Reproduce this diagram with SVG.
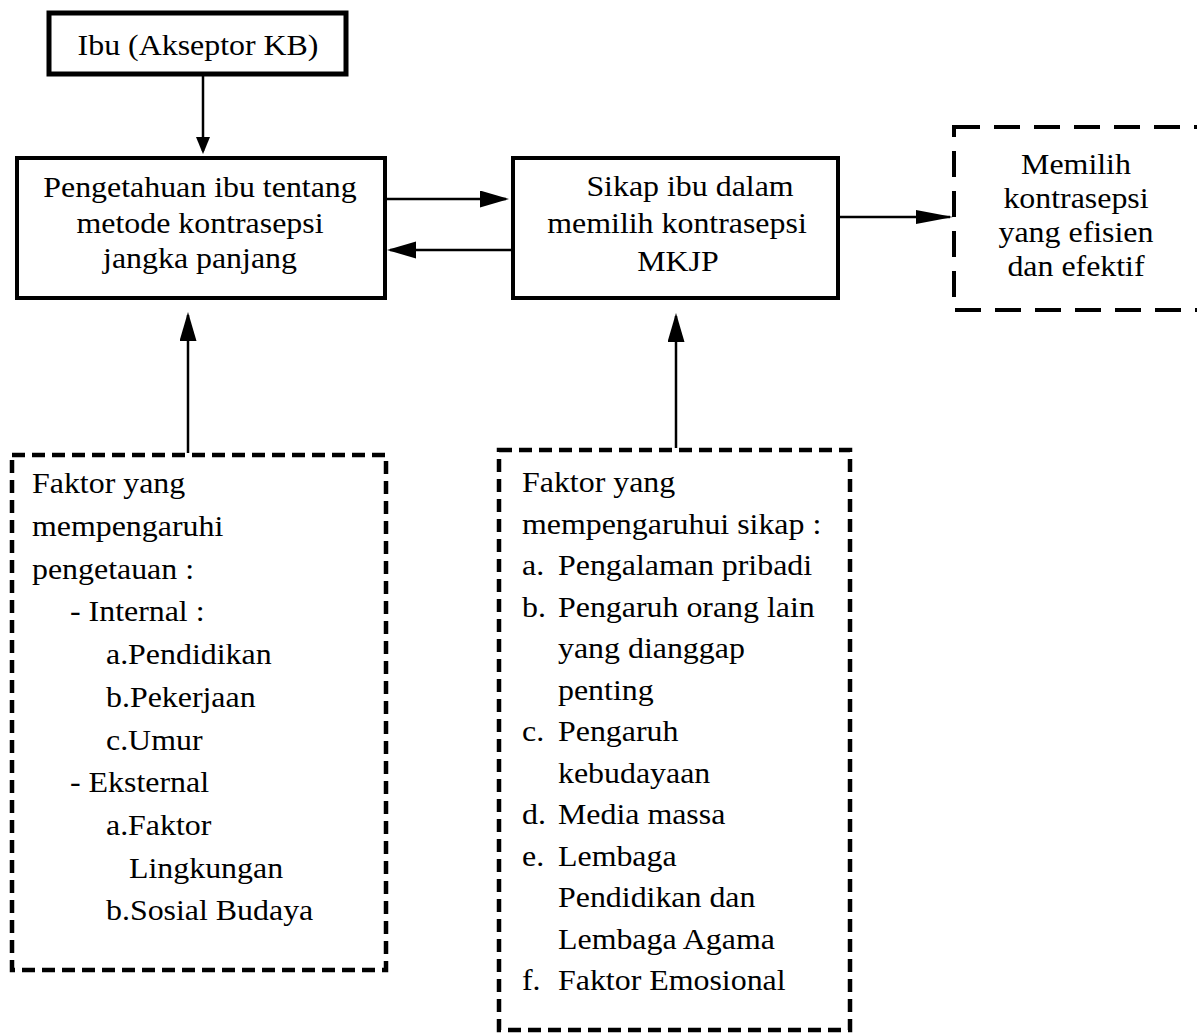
<svg xmlns="http://www.w3.org/2000/svg" width="1197" height="1035" viewBox="0 0 1197 1035">
<style>
.t{font-family:"Liberation Serif","Times New Roman",serif;font-size:29px;fill:#000}
.c{text-anchor:middle}
.box{fill:#fff;stroke:#000;stroke-width:4}
.dbs{fill:#fff;stroke:#000;stroke-width:4.5;stroke-dasharray:13 7}
.dbl{fill:#fff;stroke:#000;stroke-width:4;stroke-dasharray:26 14}
.ln{stroke:#000;stroke-width:2.5;fill:none}
</style>
<defs>
<marker id="am" markerUnits="userSpaceOnUse" markerWidth="30" markerHeight="18" refX="26" refY="8.5" orient="auto"><path d="M0,0 L29,8.5 L0,17 z" fill="#000"/></marker>
<marker id="as" markerUnits="userSpaceOnUse" markerWidth="18" markerHeight="16" refX="14" refY="7" orient="auto"><path d="M0,0 L17,7 L0,14 z" fill="#000"/></marker>
<marker id="al" markerUnits="userSpaceOnUse" markerWidth="38" markerHeight="16" refX="34" refY="7" orient="auto"><path d="M0,0 L37,7 L0,14 z" fill="#000"/></marker>
</defs>
<rect width="1197" height="1035" fill="#fff"/>
<g id="connectors">
<line class="ln" x1="203" y1="76" x2="203" y2="151" marker-end="url(#as)"/>
<line class="ln" x1="387" y1="199" x2="506" y2="199" marker-end="url(#am)"/>
<line class="ln" x1="511" y1="250" x2="390" y2="250" marker-end="url(#am)"/>
<line class="ln" x1="840" y1="217" x2="950" y2="217" marker-end="url(#al)"/>
<line class="ln" x1="188" y1="453" x2="188" y2="315" marker-end="url(#am)"/>
<line class="ln" x1="676" y1="448" x2="676" y2="316" marker-end="url(#am)"/>
</g>
<g id="ibu">
<rect class="box" x="49" y="13" width="297" height="61" style="stroke-width:5"/>
<text class="t c" transform="translate(198 55) scale(1.1 1)">Ibu (Akseptor KB)</text>
</g>
<g id="pengetahuan">
<rect class="box" x="17" y="158" width="368" height="140"/>
<text class="t c" transform="translate(200 197) scale(1.1 1)">Pengetahuan ibu tentang</text>
<text class="t c" transform="translate(200 232.5) scale(1.1 1)">metode kontrasepsi</text>
<text class="t c" transform="translate(200 268) scale(1.1 1)">jangka panjang</text>
</g>
<g id="sikap">
<rect class="box" x="513" y="158" width="325" height="140"/>
<text class="t c" transform="translate(690 196) scale(1.1 1)">Sikap ibu dalam</text>
<text class="t c" transform="translate(677 233) scale(1.1 1)">memilih kontrasepsi</text>
<text class="t c" transform="translate(678 271) scale(1.1 1)">MKJP</text>
</g>
<g id="memilih">
<rect class="dbl" x="954" y="127" width="262" height="183"/>
<text class="t c" transform="translate(1076 174) scale(1.1 1)">Memilih</text>
<text class="t c" transform="translate(1076 208) scale(1.1 1)">kontrasepsi</text>
<text class="t c" transform="translate(1076 242) scale(1.1 1)">yang efisien</text>
<text class="t c" transform="translate(1076 276) scale(1.1 1)">dan efektif</text>
</g>
<g id="faktor-pengetahuan">
<rect class="dbs" x="12" y="455" width="374" height="515"/>
<text class="t" transform="translate(32 493) scale(1.1 1)">Faktor yang</text>
<text class="t" transform="translate(32 536) scale(1.1 1)">mempengaruhi</text>
<text class="t" transform="translate(32 578.5) scale(1.1 1)">pengetauan :</text>
<text class="t" transform="translate(70 621) scale(1.1 1)">- Internal :</text>
<text class="t" transform="translate(106 664) scale(1.1 1)">a.Pendidikan</text>
<text class="t" transform="translate(106 707) scale(1.1 1)">b.Pekerjaan</text>
<text class="t" transform="translate(106 749.5) scale(1.1 1)">c.Umur</text>
<text class="t" transform="translate(70 792) scale(1.1 1)">- Eksternal</text>
<text class="t" transform="translate(106 835) scale(1.1 1)">a.Faktor</text>
<text class="t" transform="translate(129 877.5) scale(1.1 1)">Lingkungan</text>
<text class="t" transform="translate(106 920) scale(1.1 1)">b.Sosial Budaya</text>
</g>
<g id="faktor-sikap">
<rect class="dbs" x="499" y="450" width="351" height="580"/>
<text class="t" transform="translate(522 492) scale(1.1 1)">Faktor yang</text>
<text class="t" transform="translate(522 533.5) scale(1.1 1)">mempengaruhui sikap :</text>
<text class="t" transform="translate(522 575) scale(1.1 1)">a.</text>
<text class="t" transform="translate(558 575) scale(1.1 1)">Pengalaman pribadi</text>
<text class="t" transform="translate(522 616.5) scale(1.1 1)">b.</text>
<text class="t" transform="translate(558 616.5) scale(1.1 1)">Pengaruh orang lain</text>
<text class="t" transform="translate(558 658) scale(1.1 1)">yang dianggap</text>
<text class="t" transform="translate(558 699.5) scale(1.1 1)">penting</text>
<text class="t" transform="translate(522 741) scale(1.1 1)">c.</text>
<text class="t" transform="translate(558 741) scale(1.1 1)">Pengaruh</text>
<text class="t" transform="translate(558 782.5) scale(1.1 1)">kebudayaan</text>
<text class="t" transform="translate(522 824) scale(1.1 1)">d.</text>
<text class="t" transform="translate(558 824) scale(1.1 1)">Media massa</text>
<text class="t" transform="translate(522 865.5) scale(1.1 1)">e.</text>
<text class="t" transform="translate(558 865.5) scale(1.1 1)">Lembaga</text>
<text class="t" transform="translate(558 907) scale(1.1 1)">Pendidikan dan</text>
<text class="t" transform="translate(558 948.5) scale(1.1 1)">Lembaga Agama</text>
<text class="t" transform="translate(522 990) scale(1.1 1)">f.</text>
<text class="t" transform="translate(558 990) scale(1.1 1)">Faktor Emosional</text>
</g>
</svg>
